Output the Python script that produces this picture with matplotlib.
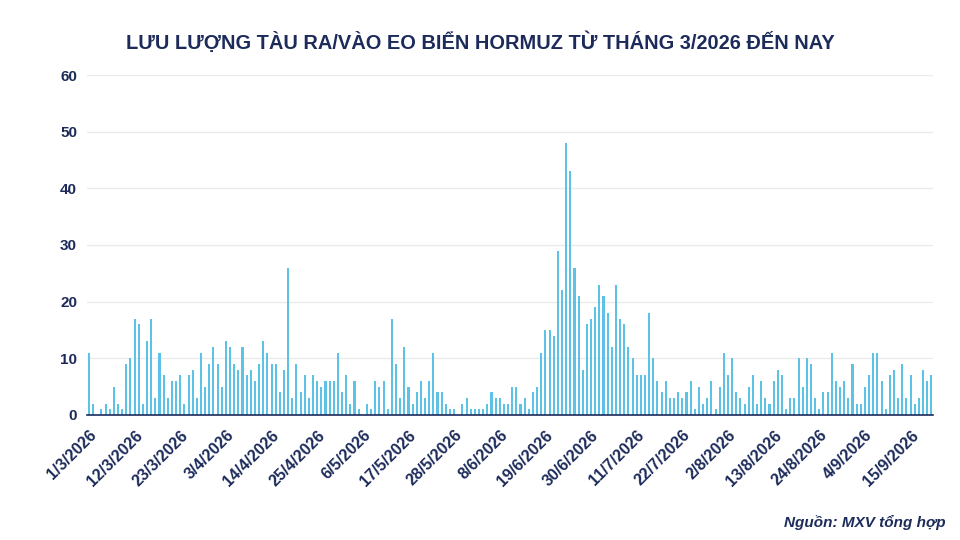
import matplotlib
matplotlib.use("Agg")
import matplotlib.pyplot as plt
import numpy as np
from datetime import date, timedelta

plt.rcParams['font.family'] = ['Liberation Sans', 'DejaVu Sans']

start = date(2026, 3, 1)

# daily ship counts through the strait, 1/3/2026 -> 20/9/2026
ships = [
    11, 2, 0, 1, 2, 1, 5, 2, 1, 9, 10, 17, 16, 2, 13, 17, 3, 11, 7, 3,
    6, 6, 7, 2, 7, 8, 3, 11, 5,
    9, 12, 9, 5, 13, 12, 9, 8, 12, 7, 8, 6, 9, 13, 11, 9, 9, 4, 8, 26,
    3, 9, 4, 7, 3, 7, 6, 5,
    6, 6, 6, 11, 4, 7, 2, 6, 1, 0, 2, 1, 6, 5, 6, 1, 17, 9, 3, 12,
    5, 2, 4, 6, 3, 6, 11, 4,
    4, 2, 1, 1, 0, 2, 3, 1, 1, 1, 1, 2, 4, 3, 3, 2, 2, 5, 5, 2,
    3, 1, 4, 5, 11, 15, 15, 14,
    29, 22, 48, 43, 26, 21, 8, 16, 17, 19, 23, 21, 18, 12, 23, 17, 16, 12, 10, 7,
    7, 7, 18, 10, 6, 4, 6, 3, 3, 4, 3, 4, 6,
    1, 5, 2, 3, 6, 1, 5, 11, 7, 10, 4, 3, 2, 5, 7, 2, 6, 3, 2, 6,
    8, 7, 1, 3, 3, 10, 5, 10, 9, 3, 1, 4, 4, 11, 6, 5, 6, 3, 9, 2,
    2, 5, 7, 11, 11, 6, 1, 7, 8, 3, 9, 3, 7, 2, 3, 8, 6, 7,
]

days = [start + timedelta(days=i) for i in range(len(ships))]
tick_idx = list(range(0, len(ships), 11))
tick_labels = [f"{days[i].day}/{days[i].month}/{days[i].year}" for i in tick_idx]

navy = '#1c2b5a'
bar_col = '#5cc3e6'

fig = plt.figure(figsize=(9.6, 5.4), dpi=100)
ax = fig.add_axes([0.0905, 0.2315, 0.8818, 0.6296])

x = np.arange(len(ships))
ax.bar(x, ships, width=0.5, color=bar_col, linewidth=0, antialiased=False, zorder=3)

ax.set_xlim(-0.5, len(ships) - 0.5)
ax.set_ylim(0, 60)
ax.set_yticks(range(0, 61, 10))
ax.yaxis.grid(True, color='#ebebeb', linewidth=1, zorder=0)
ax.set_axisbelow(True)

for s in ['top', 'right', 'left']:
    ax.spines[s].set_visible(False)
ax.spines['bottom'].set_color(navy)
ax.spines['bottom'].set_linewidth(1.2)
ax.spines['bottom'].set_zorder(4)

ax.set_xticks(tick_idx)
ax.set_xticklabels(tick_labels, rotation=45, ha='right', rotation_mode='anchor',
                   fontsize=11.5, fontweight='bold', color=navy)
ax.tick_params(axis='x', length=0, pad=9)
ax.tick_params(axis='y', length=0, pad=7, labelsize=11, labelcolor=navy)
for t in ax.get_yticklabels():
    t.set_fontweight('bold')

fig.text(0.5, 0.922, 'LƯU LƯỢNG TÀU RA/VÀO EO BIỂN HORMUZ TỪ THÁNG 3/2026 ĐẾN NAY',
         ha='center', va='center', fontsize=14.4, fontweight='bold', color=navy)
fig.text(0.985, 0.033, 'Nguồn: MXV tổng hợp', ha='right', va='center',
         fontsize=11, fontweight='bold', fontstyle='italic', color=navy)

fig.savefig('out.png', dpi=100)
